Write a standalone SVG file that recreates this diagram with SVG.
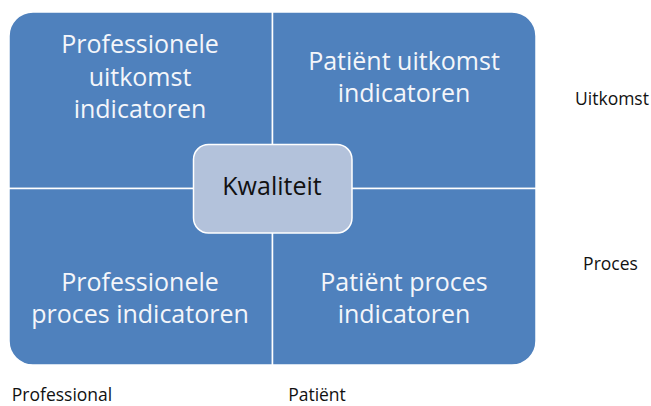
<svg xmlns="http://www.w3.org/2000/svg" width="651" height="406" viewBox="0 0 651 406">
<style>
.q{fill:#4F81BD;stroke:#FFFFFF;stroke-width:1.5}
.c{fill:#B3C2DB;stroke:#FFFFFF;stroke-width:1.5}
.qt{font-family:"Open Sans","Liberation Sans",sans-serif;font-size:25px;fill:#F4F6FA;text-anchor:middle}
.ct{font-family:"Open Sans","Liberation Sans",sans-serif;font-size:25px;fill:#111111;text-anchor:middle}
.lb{font-family:"Open Sans","Liberation Sans",sans-serif;font-size:17.5px;fill:#111111;text-anchor:middle}
</style>
<rect width="651" height="406" fill="#FFFFFF"/>
<g id="q-prof-uitkomst">
<path class="q" d="M9,188.5 V36 A24,24 0 0 1 33,12 H272.5 V188.5 Z"/>
<text class="qt" x="140" y="53">Professionele</text>
<text class="qt" x="140" y="86">uitkomst</text>
<text class="qt" x="140" y="118">indicatoren</text>
</g>
<g id="q-pat-uitkomst">
<path class="q" d="M272.5,12 H512 A24,24 0 0 1 536,36 V188.5 H272.5 Z"/>
<text class="qt" x="404" y="70">Patiënt uitkomst</text>
<text class="qt" x="404" y="102">indicatoren</text>
</g>
<g id="q-prof-proces">
<path class="q" d="M9,188.5 H272.5 V365 H33 A24,24 0 0 1 9,341 Z"/>
<text class="qt" x="140" y="291">Professionele</text>
<text class="qt" x="140" y="323">proces indicatoren</text>
</g>
<g id="q-pat-proces">
<path class="q" d="M272.5,188.5 H536 V341 A24,24 0 0 1 512,365 H272.5 Z"/>
<text class="qt" x="404" y="291">Patiënt proces</text>
<text class="qt" x="404" y="323">indicatoren</text>
</g>
<g id="kwaliteit">
<rect class="c" x="193.5" y="144.5" width="158.5" height="88.5" rx="15"/>
<text class="ct" x="272" y="195">Kwaliteit</text>
</g>
<g id="connectors"/>
<g id="labels">
<text class="lb" x="612" y="105">Uitkomst</text>
<text class="lb" x="610.5" y="270">Proces</text>
<text class="lb" x="62" y="401">Professional</text>
<text class="lb" x="317" y="401">Patiënt</text>
</g>
</svg>
